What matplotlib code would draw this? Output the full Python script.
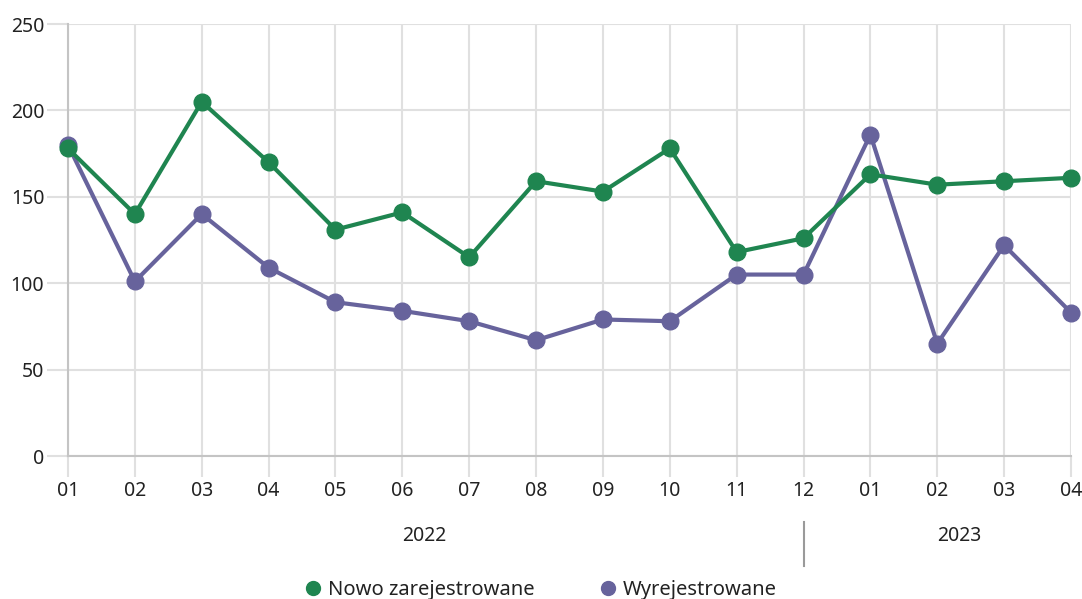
import numpy as np
import matplotlib
matplotlib.use("Agg")
import matplotlib.pyplot as plt
from matplotlib.lines import Line2D
import matplotlib.transforms as mtransforms

plt.rcParams['font.family'] = ['Noto Sans', 'DejaVu Sans']

# dane
miesiace = ["01", "02", "03", "04", "05", "06", "07", "08", "09", "10", "11", "12",
            "01", "02", "03", "04"]
lata = ["2022", "2023"]
miesiace_w_roku = [12, 4]
nowo_zarejestrowane = [178, 140, 205, 170, 131, 141, 115, 159, 153, 178, 118, 126,
                       163, 157, 159, 161]
wyrejestrowane = [180, 101, 140, 109, 89, 84, 78, 67, 79, 78, 105, 105,
                  186, 65, 122, 83]

ZIELONY = "#1f8550"
FIOLET = "#67639c"
SIATKA = "#e0e0e0"
OS = "#c4c4c4"
TEKST = "#222222"

fig = plt.figure(figsize=(10.82, 5.99), dpi=100)
ax = fig.add_axes([68/1082, 1 - 456/599, (1071 - 68)/1082, (456 - 24)/599])

x = np.arange(len(miesiace))
ax.plot(x, wyrejestrowane, color=FIOLET, lw=3, marker="o", ms=12, zorder=3,
        clip_on=False)
ax.plot(x, nowo_zarejestrowane, color=ZIELONY, lw=3, marker="o", ms=12, zorder=4,
        clip_on=False)

ax.set_xlim(0, len(miesiace) - 1)
ax.set_ylim(0, 250)
ax.set_yticks(np.arange(0, 251, 50))
ax.set_xticks(x)
ax.set_xticklabels(miesiace)

for s in ["top", "right"]:
    ax.spines[s].set_visible(False)
for s in ["left", "bottom"]:
    ax.spines[s].set_color(OS)
    ax.spines[s].set_linewidth(1.5)

ax.grid(True, color=SIATKA, lw=1.5, zorder=0)
ax.set_axisbelow(True)
ax.tick_params(axis="both", length=15, width=1.5, color=SIATKA, labelsize=14,
               labelcolor=TEKST)
ax.tick_params(axis="y", pad=2)
ax.tick_params(axis="x", pad=3)

# etykiety lat i separator
trans = mtransforms.blended_transform_factory(ax.transData, fig.transFigure)
start = 0
for rok, n in zip(lata, miesiace_w_roku):
    srodek = start + (n - 1) / 2 - 0.17
    ax.text(srodek, 1 - 536/599, rok, transform=trans, ha="center", va="center",
            fontsize=14, color=TEKST)
    start += n
ax.add_line(Line2D([miesiace_w_roku[0] - 1] * 2, [1 - 522/599, 1 - 566/599],
                   transform=trans, color="#9a9a9a", lw=1.5, clip_on=False))

uchwyty = [
    Line2D([], [], ls="none", marker="o", ms=10, color=ZIELONY),
    Line2D([], [], ls="none", marker="o", ms=10, color=FIOLET),
]
fig.legend(uchwyty, ["Nowo zarejestrowane", "Wyrejestrowane"], loc="center",
           bbox_to_anchor=(0.5, 1 - 590/599), ncol=2, frameon=False,
           fontsize=14.5, handlelength=0.8, handletextpad=0.35, columnspacing=3.2,
           labelcolor=TEKST)

fig.savefig("out.png", dpi=100)
